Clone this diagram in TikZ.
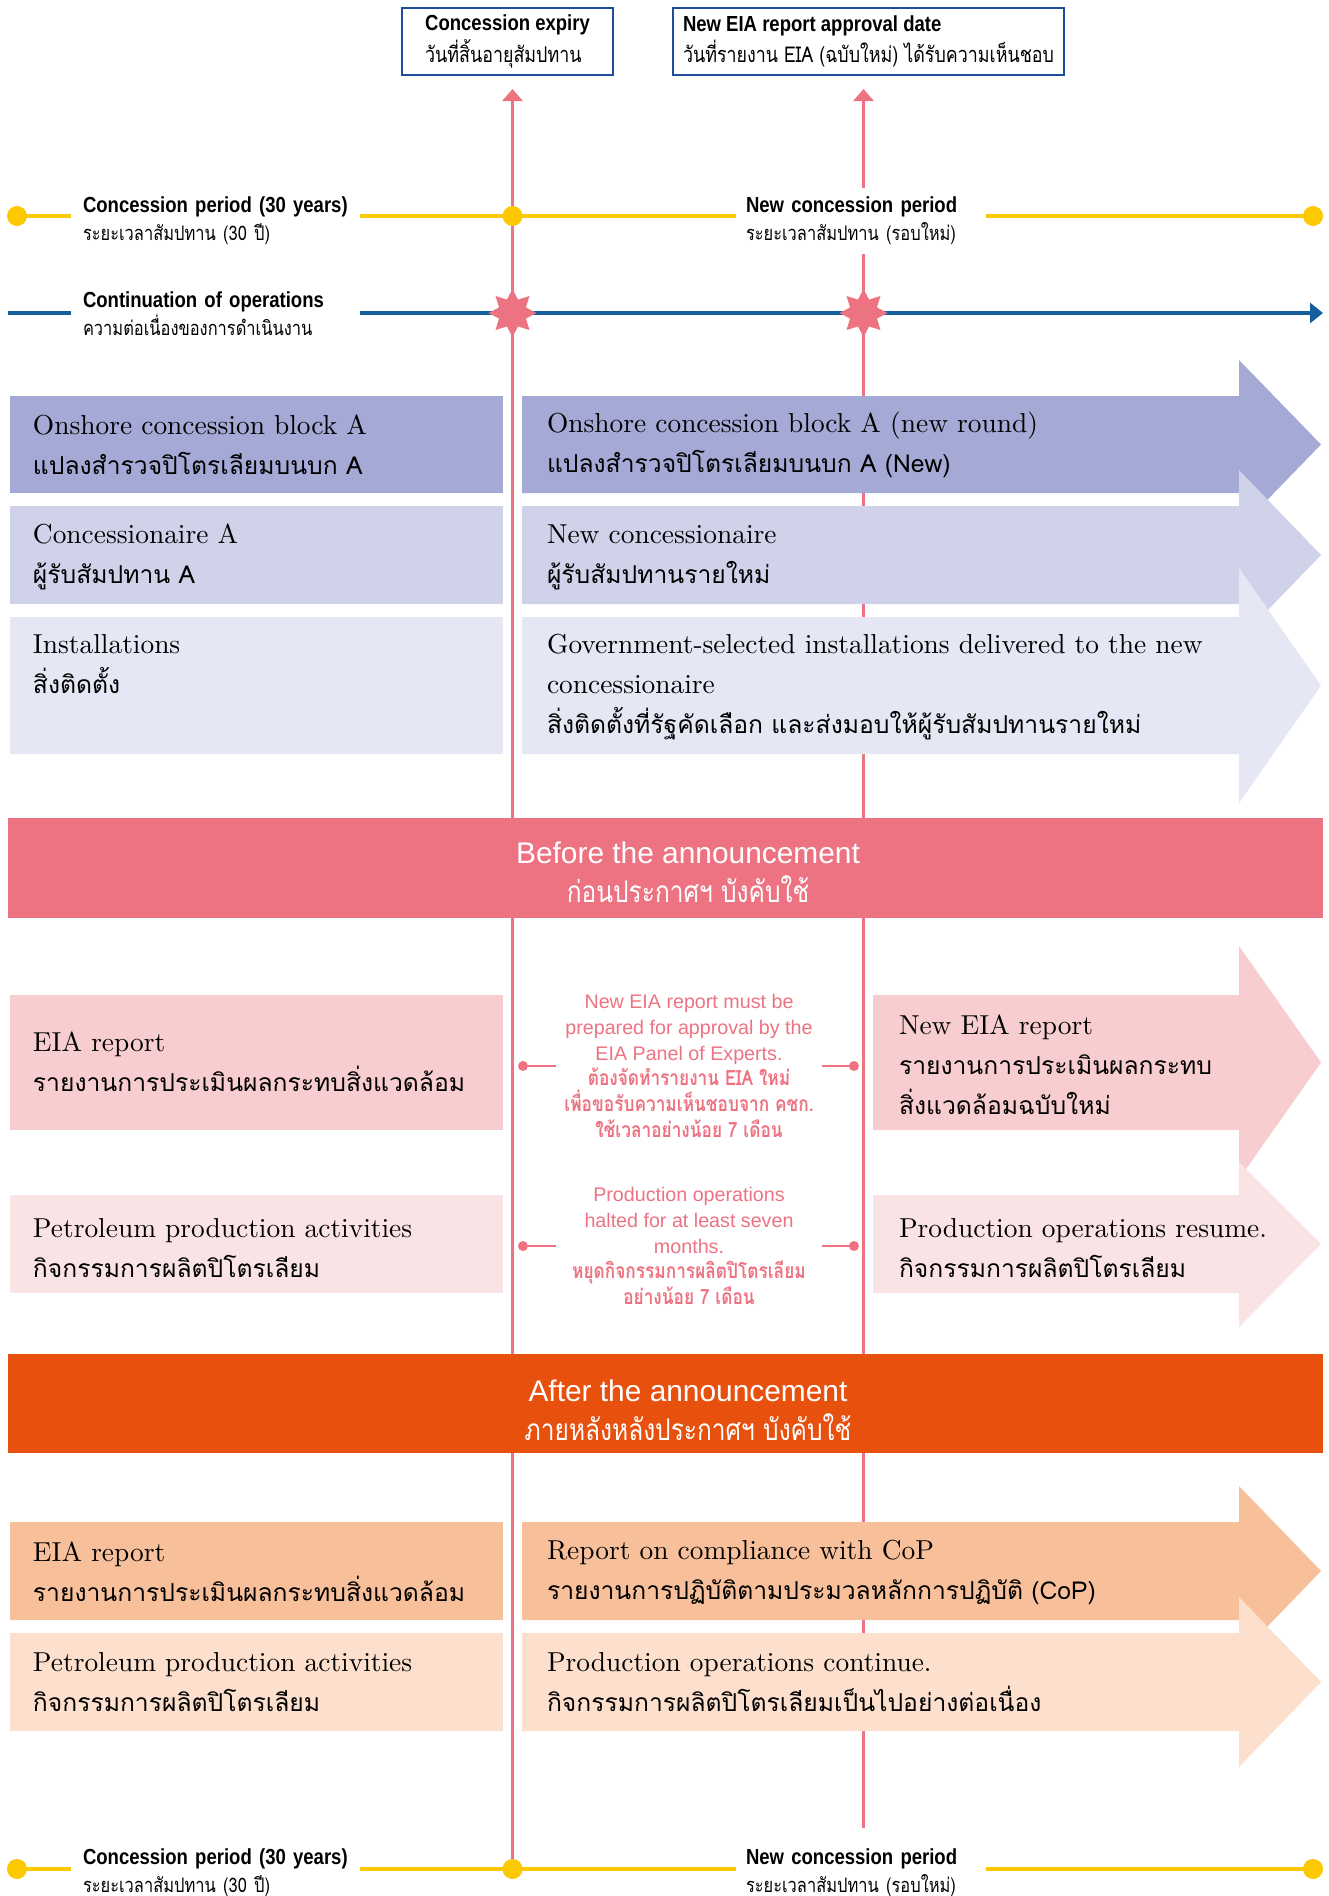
\documentclass[tikz,border=0pt]{standalone}
\usepackage{fontspec}
\setmainfont{lmroman10-regular}[Extension=.otf]
\setsansfont{Liberation Sans}
\newfontfamily\thai[Script=Thai,Scale=0.9]{Loma}
\newfontfamily\thaic[Script=Thai,FakeStretch=0.82]{Loma}
\newfontfamily\thail[Script=Thai,FakeStretch=0.82,Scale=0.92]{Loma}
\newfontfamily\thainote[Script=Thai,FakeStretch=0.82,Scale=1.07]{Loma}
\newfontfamily\condsans[FakeStretch=0.85]{Liberation Sans}
\usetikzlibrary{arrows.meta, shapes.geometric}
\definecolor{ppink}{RGB}{237,115,130}
\definecolor{pyellow}{RGB}{252,200,0}
\definecolor{dblue}{RGB}{30,77,154}
\definecolor{opsblue}{RGB}{21,94,158}
\definecolor{lavA}{RGB}{165,169,214}
\definecolor{lavB}{RGB}{208,210,234}
\definecolor{lavC}{RGB}{230,231,244}
\definecolor{rosA}{RGB}{247,205,208}
\definecolor{rosB}{RGB}{250,227,229}
\definecolor{bandpink}{RGB}{237,115,130}
\definecolor{bandorange}{RGB}{232,80,14}
\definecolor{orA}{RGB}{248,192,154}
\definecolor{orB}{RGB}{252,223,204}

\begin{document}
\begin{tikzpicture}[
  every node/.style={inner sep=0pt, outer sep=0pt},
  vline/.style={ppink, line width=0.8pt},
  yline/.style={pyellow, line width=0.9pt},
  ydot/.style={circle, fill=pyellow, minimum size=0.2cm},
  pdot/.style={circle, fill=ppink, minimum size=0.1cm},
  burst/.style={star, star points=8, star point ratio=1.65, fill=ppink, minimum size=0.48cm},
  datebox/.style={draw=dblue, line width=0.8pt, fill=white, anchor=north west, align=left,
    minimum height=0.67cm, font=\condsans\fontsize{6.2}{7.1}\selectfont},
  tlabel/.style={fill=white, anchor=west, align=left, inner xsep=0.12cm, inner ysep=0.09cm,
    font=\condsans\fontsize{6.2}{8}\selectfont},
  boxtext/.style={anchor=west, align=left, font=\fontsize{7.8}{11.4}\selectfont},
  bandtext/.style={white, align=center, font=\sffamily\fontsize{8.5}{11.1}\selectfont},
  notetext/.style={ppink, align=center, minimum width=2.66cm,
    font=\sffamily\fontsize{5.6}{7.3}\selectfont}
]
  \useasboundingbox (0,0) rectangle (13.29,-18.96);
  \clip (0,0) rectangle (13.29,-18.96);
  \fill[white] (0,0) rectangle (13.29,-18.96);

  % Date boxes on top
  \node[datebox, minimum width=2.11cm] (expiry) at (4.02,-0.08)
    {\textbf{Concession expiry}\\{\thaic วันที่สิ้นอายุสัมปทาน}};
  \node[datebox, minimum width=3.91cm] (eiadate) at (6.73,-0.08)
    {\textbf{New EIA report approval date}\\{\thaic วันที่รายงาน EIA (ฉบับใหม่) ได้รับความเห็นชอบ}};

  % Timeline end points
  \coordinate (t1l) at (0.17,-2.16);
  \coordinate (t1m) at (5.125,-2.16);
  \coordinate (t1r) at (13.13,-2.16);
  \coordinate (t2l) at (0.17,-18.69);
  \coordinate (t2m) at (5.125,-18.69);
  \coordinate (t2r) at (13.13,-18.69);
  \coordinate (opsl) at (0.08,-3.13);
  \coordinate (opsr) at (13.23,-3.13);
  \coordinate (v2end) at (8.635,-18.28);

  % Vertical pink lines
  \draw[vline, -{Triangle[length=0.12cm,width=0.2cm]}, shorten >=0.14cm]
    (t2m) -- (t2m |- expiry.south);
  \draw[vline, -{Triangle[length=0.12cm,width=0.2cm]}, shorten >=0.14cm]
    (v2end) -- (v2end |- eiadate.south);

  % Horizontal lines
  \draw[yline] (t1l) -- (t1r);
  \draw[yline] (t2l) -- (t2r);
  \draw[opsblue, line width=0.9pt, -{Triangle[length=0.13cm,width=0.2cm]}] (opsl) -- (opsr);

  % Line labels
  \node[tlabel, text width=2.65cm] (cp1) at (0.71,-2.21)
    {\textbf{Concession period (30 years)}\\{\thail ระยะเวลาสัมปทาน (30 ปี)}};
  \node[tlabel, text width=2.3cm, inner xsep=0.1cm] (ncp1) at (7.36,-2.21)
    {\textbf{New concession period}\\{\thail ระยะเวลาสัมปทาน (รอบใหม่)}};
  \node[tlabel, text width=2.65cm] (ops) at (0.71,-3.14)
    {\textbf{Continuation of operations}\\{\thail ความต่อเนื่องของการดำเนินงาน}};
  \node[tlabel, text width=2.65cm] (cp2) at (0.71,-18.73)
    {\textbf{Concession period (30 years)}\\{\thail ระยะเวลาสัมปทาน (30 ปี)}};
  \node[tlabel, text width=2.3cm, inner xsep=0.1cm] (ncp2) at (7.36,-18.73)
    {\textbf{New concession period}\\{\thail ระยะเวลาสัมปทาน (รอบใหม่)}};

  % Dots and stars
  \node[ydot] (d1l) at (t1l) {};
  \node[ydot] (d1m) at (t1m) {};
  \node[ydot] (d1r) at (t1r) {};
  \node[ydot] (d2l) at (t2l) {};
  \node[ydot] (d2m) at (t2m) {};
  \node[ydot] (d2r) at (t2r) {};
  \node[burst] (s1) at (5.125,-3.13) {};
  \node[burst] (s2) at (8.635,-3.13) {};

  % Block rows
  \fill[lavA] (0.10,-3.96) rectangle (5.03,-4.93);
  \fill[lavA] (5.22,-3.96) -- (12.39,-3.96) -- (12.39,-3.60) -- (13.21,-4.445)
    -- (12.39,-5.29) -- (12.39,-4.93) -- (5.22,-4.93) -- cycle;
  \fill[lavB] (0.10,-5.06) rectangle (5.03,-6.04);
  \fill[lavB] (5.22,-5.06) -- (12.39,-5.06) -- (12.39,-4.70) -- (13.21,-5.55)
    -- (12.39,-6.40) -- (12.39,-6.04) -- (5.22,-6.04) -- cycle;
  \fill[lavC] (0.10,-6.17) rectangle (5.03,-7.54);
  \fill[lavC] (5.22,-6.17) -- (12.39,-6.17) -- (12.39,-5.68) -- (13.21,-6.855)
    -- (12.39,-8.03) -- (12.39,-7.54) -- (5.22,-7.54) -- cycle;

  \node[boxtext] (blockA) at (0.33,-4.45)
    {Onshore concession block A\\{\thai แปลงสำรวจปิโตรเลียมบนบก A}};
  \node[boxtext] (blockNew) at (5.47,-4.45)
    {Onshore concession block A (new round)\\{\thai แปลงสำรวจปิโตรเลียมบนบก A (New)}};
  \node[boxtext] (holderA) at (0.33,-5.57)
    {Concessionaire A\\{\thai ผู้รับสัมปทาน A}};
  \node[boxtext] (holderNew) at (5.47,-5.57)
    {New concessionaire\\{\thai ผู้รับสัมปทานรายใหม่}};
  \node[boxtext] (instNew) at (5.47,-6.87)
    {Government-selected installations delivered to the new\\concessionaire\\{\thai สิ่งติดตั้งที่รัฐคัดเลือก และส่งมอบให้ผู้รับสัมปทานรายใหม่}};
  \coordinate (lcol) at (0.33,0);
  \node[boxtext, anchor=north west] (inst) at (instNew.north west -| lcol)
    {Installations\\{\thai สิ่งติดตั้ง}};

  % Before the announcement
  \fill[bandpink] (0.08,-8.18) rectangle (13.23,-9.18);
  \node[bandtext] (before) at (6.88,-8.72)
    {Before the announcement\\{\thaic ก่อนประกาศฯ บังคับใช้}};

  \fill[rosA] (0.10,-9.95) rectangle (5.03,-11.30);
  \fill[rosA] (8.73,-9.95) -- (12.39,-9.95) -- (12.39,-9.46) -- (13.21,-10.625)
    -- (12.39,-11.79) -- (12.39,-11.30) -- (8.73,-11.30) -- cycle;
  \fill[rosB] (0.10,-11.95) rectangle (5.03,-12.93);
  \fill[rosB] (8.73,-11.95) -- (12.39,-11.95) -- (12.39,-11.62) -- (13.21,-12.44)
    -- (12.39,-13.27) -- (12.39,-12.93) -- (8.73,-12.93) -- cycle;

  \node[boxtext] (eiaOld) at (0.33,-10.62)
    {EIA report\\{\thai รายงานการประเมินผลกระทบสิ่งแวดล้อม}};
  \node[boxtext] (eiaNew) at (8.99,-10.65)
    {New EIA report\\{\thai รายงานการประเมินผลกระทบ}\\{\thai สิ่งแวดล้อมฉบับใหม่}};
  \node[boxtext] (prodOld) at (0.33,-12.48)
    {Petroleum production activities\\{\thai กิจกรรมการผลิตปิโตรเลียม}};
  \node[boxtext] (prodResume) at (8.99,-12.48)
    {Production operations resume.\\{\thai กิจกรรมการผลิตปิโตรเลียม}};

  % Notes between the lines
  \node[notetext] (note1) at (6.89,-10.66)
    {New EIA report must be\\prepared for approval by the\\EIA Panel of Experts.\\
     {\thainote\bfseries ต้องจัดทำรายงาน EIA ใหม่}\\{\thainote\bfseries เพื่อขอรับความเห็นชอบจาก คชก.}\\
     {\thainote\bfseries ใช้เวลาอย่างน้อย 7 เดือน}};
  \node[pdot] (n1l) at (5.23,-10.66) {};
  \node[pdot] (n1r) at (8.54,-10.66) {};
  \draw[vline] (n1l) -- (note1.west);
  \draw[vline] (note1.east) -- (n1r);

  \node[notetext] (note2) at (6.89,-12.46)
    {Production operations\\halted for at least seven\\months.\\
     {\thainote\bfseries หยุดกิจกรรมการผลิตปิโตรเลียม}\\{\thainote\bfseries อย่างน้อย 7 เดือน}};
  \node[pdot] (n2l) at (5.23,-12.46) {};
  \node[pdot] (n2r) at (8.54,-12.46) {};
  \draw[vline] (n2l) -- (note2.west);
  \draw[vline] (note2.east) -- (n2r);

  % After the announcement
  \fill[bandorange] (0.08,-13.54) rectangle (13.23,-14.53);
  \node[bandtext] (after) at (6.88,-14.10)
    {After the announcement\\{\thaic ภายหลังหลังประกาศฯ บังคับใช้}};

  \fill[orA] (0.10,-15.22) rectangle (5.03,-16.20);
  \fill[orA] (5.22,-15.22) -- (12.39,-15.22) -- (12.39,-14.86) -- (13.21,-15.71)
    -- (12.39,-16.56) -- (12.39,-16.20) -- (5.22,-16.20) -- cycle;
  \fill[orB] (0.10,-16.33) rectangle (5.03,-17.31);
  \fill[orB] (5.22,-16.33) -- (12.39,-16.33) -- (12.39,-15.97) -- (13.21,-16.82)
    -- (12.39,-17.67) -- (12.39,-17.31) -- (5.22,-17.31) -- cycle;

  \node[boxtext] (eiaAfter) at (0.33,-15.72)
    {EIA report\\{\thai รายงานการประเมินผลกระทบสิ่งแวดล้อม}};
  \node[boxtext] (copReport) at (5.47,-15.72)
    {Report on compliance with CoP\\{\thai รายงานการปฏิบัติตามประมวลหลักการปฏิบัติ (CoP)}};
  \node[boxtext] (prodAfter) at (0.33,-16.82)
    {Petroleum production activities\\{\thai กิจกรรมการผลิตปิโตรเลียม}};
  \node[boxtext] (prodGoOn) at (5.47,-16.82)
    {Production operations continue.\\{\thai กิจกรรมการผลิตปิโตรเลียมเป็นไปอย่างต่อเนื่อง}};
\end{tikzpicture}
\end{document}
